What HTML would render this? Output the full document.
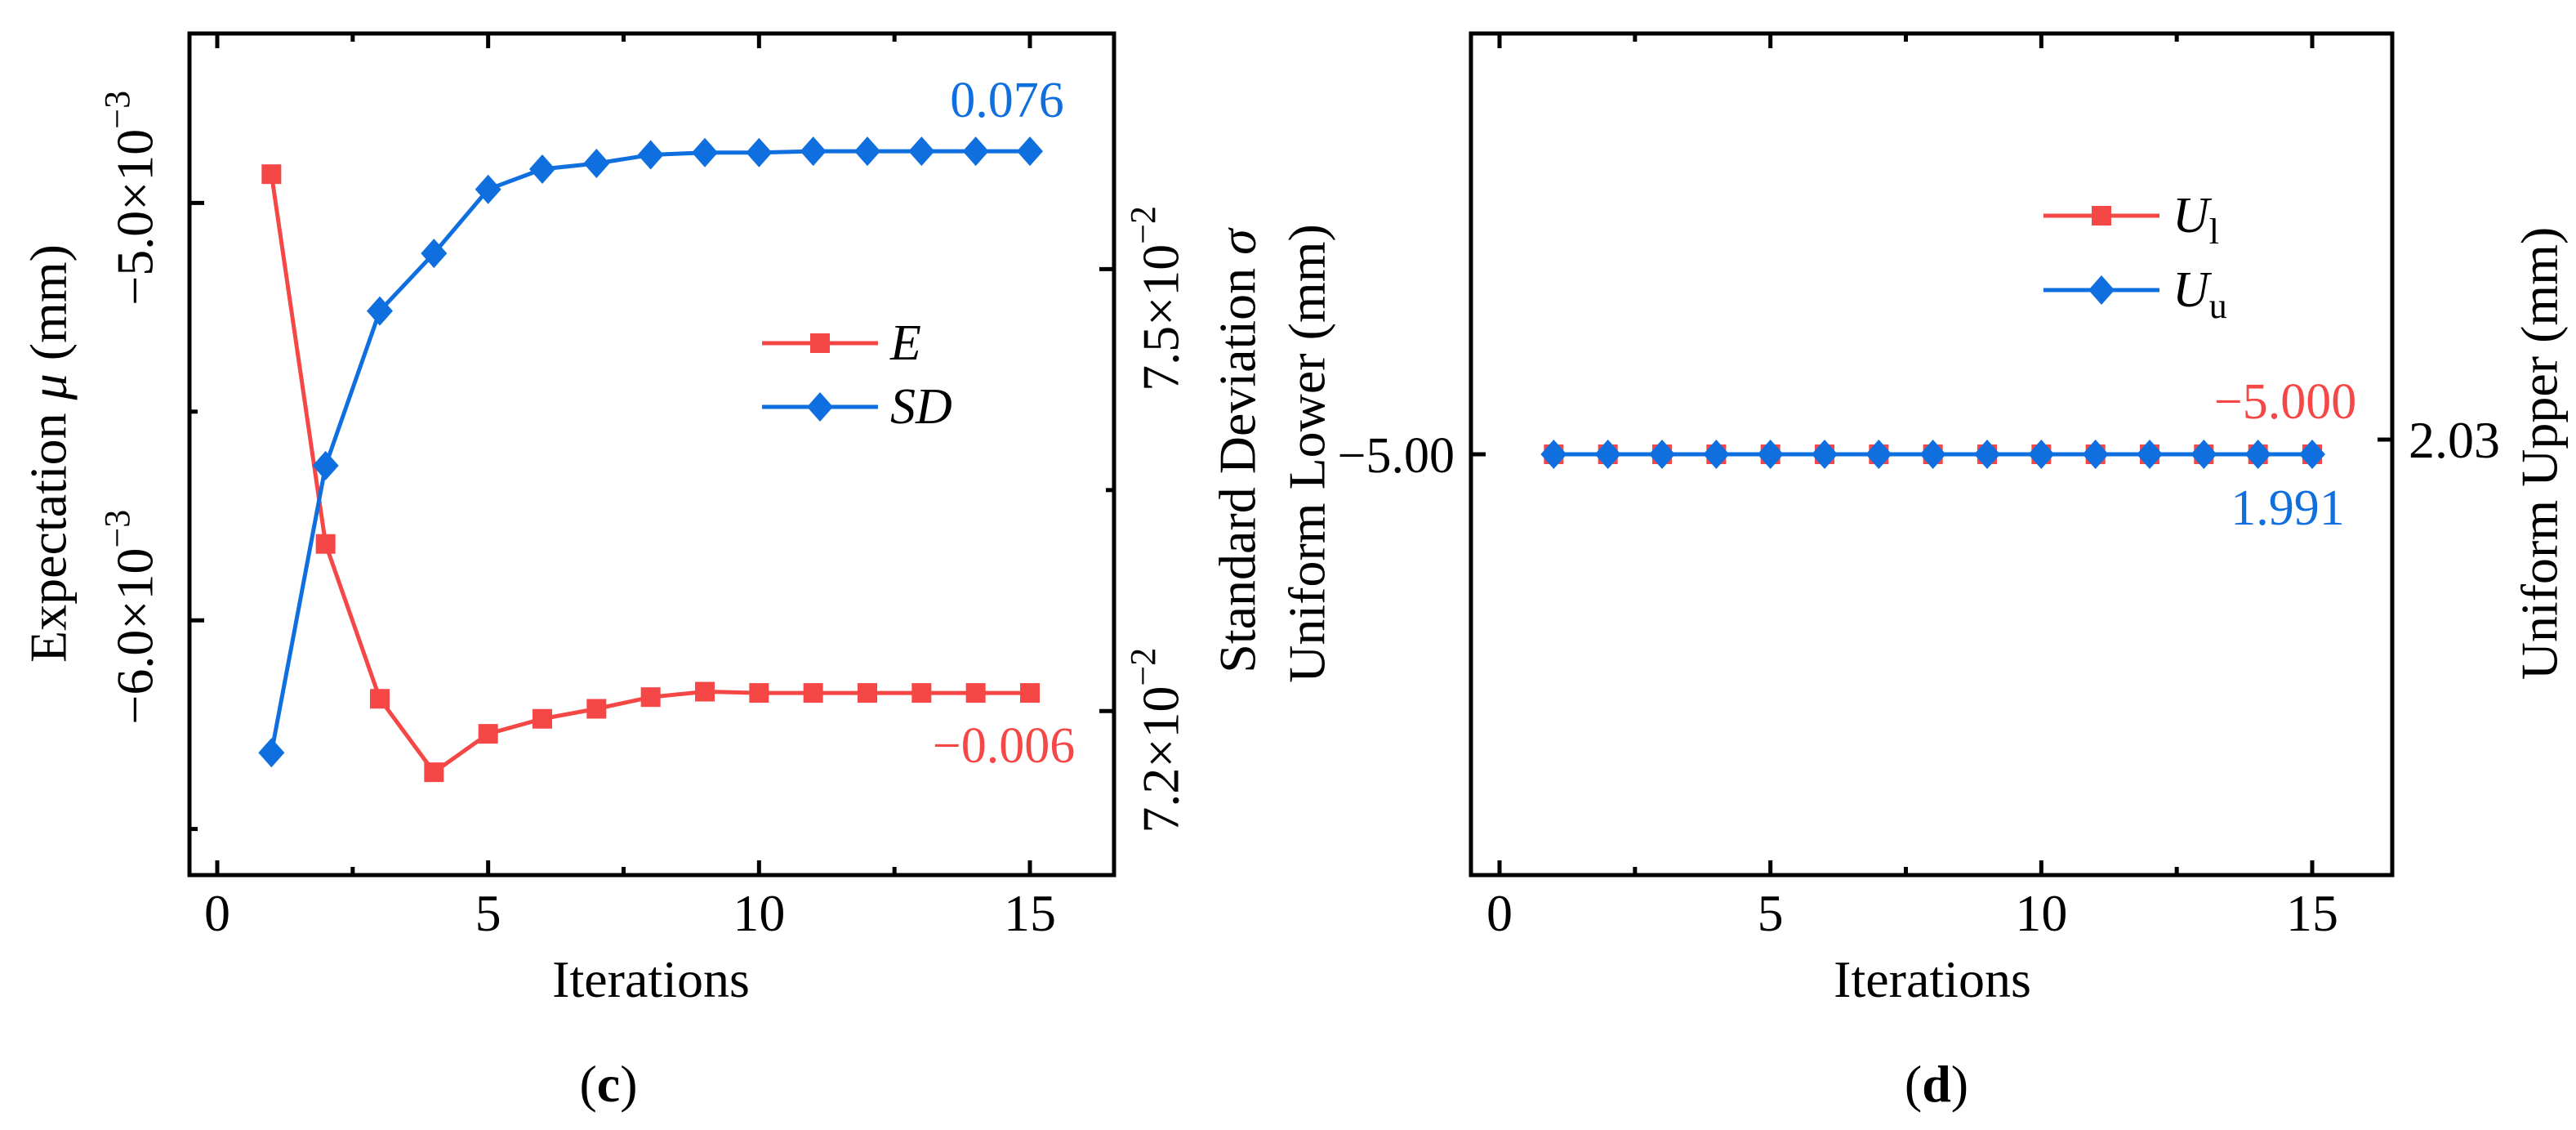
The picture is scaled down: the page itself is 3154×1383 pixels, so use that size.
<!DOCTYPE html>
<html><head><meta charset="utf-8"><style>
html,body{margin:0;padding:0;background:#fff;}
svg{display:block;font-family:"Liberation Serif",serif;}
</style></head><body>
<svg id="fig" width="3154" height="1383" viewBox="0 0 3154 1383" xmlns="http://www.w3.org/2000/svg"></svg>
<script>
const iterations = [1,2,3,4,5,6,7,8,9,10,11,12,13,14,15];
const expectation = [-4.931e-3,-5.817e-3,-6.188e-3,-6.364e-3,-6.272e-3,-6.236e-3,-6.212e-3,-6.184e-3,-6.171e-3,-6.174e-3,-6.174e-3,-6.174e-3,-6.174e-3,-6.174e-3,-6.174e-3];
const stdDev = [7.1717e-2,7.3666e-2,7.4716e-2,7.5107e-2,7.5542e-2,7.5679e-2,7.5718e-2,7.5776e-2,7.5791e-2,7.5791e-2,7.5800e-2,7.5800e-2,7.5800e-2,7.5800e-2,7.5800e-2];
const uniformLower = [-5,-5,-5,-5,-5,-5,-5,-5,-5,-5,-5,-5,-5,-5,-5];
const uniformUpper = [1.991,1.991,1.991,1.991,1.991,1.991,1.991,1.991,1.991,1.991,1.991,1.991,1.991,1.991,1.991];
const xTicks = [0,5,10,15];
const xMinor = [2.5,7.5,12.5];

const NS="http://www.w3.org/2000/svg";
const svg=document.getElementById('fig');
const RED="#f64747", BLUE="#0f6fdf";
function el(tag,attrs,parent){const e=document.createElementNS(NS,tag);for(const k in attrs)e.setAttribute(k,attrs[k]);(parent||svg).appendChild(e);return e;}
function lin(d0,d1,r0,r1){return v=>r0+(v-d0)*(r1-r0)/(d1-d0);}

function panel(p){
  const g=el('g',{});
  
  
  const X=lin(0,15,p.x0,p.x15);
  const fr=el('rect',{x:p.L,y:p.T,width:p.R-p.L,height:p.B-p.T,fill:'none',stroke:'#000','stroke-width':5},g);
  
  
  xTicks.forEach(t=>{
    const x=X(t);
    const a=el('line',{x1:x,x2:x,y1:p.B,y2:p.B-18,stroke:'#000','stroke-width':5},g);
    
    
    el('line',{x1:x,x2:x,y1:p.T,y2:p.T+18,stroke:'#000','stroke-width':5},g);
    const tx=el('text',{x:x,y:p.B+68,'font-size':64,'text-anchor':'middle'},g);
    tx.textContent=t;
    
    
  });
  xMinor.forEach(t=>{
    const x=X(t);
    el('line',{x1:x,x2:x,y1:p.B,y2:p.B-10,stroke:'#000','stroke-width':5},g);
    el('line',{x1:x,x2:x,y1:p.T,y2:p.T+10,stroke:'#000','stroke-width':5},g);
  });
  const xt=el('text',{x:p.xtitle,y:1220,'font-size':64,'text-anchor':'middle'},g);
  xt.textContent='Iterations';
  
  
  return {g,X};
}
function ytick(g,x,y,len,dir,w){const l=el('line',{x1:x,x2:x+dir*len,y1:y,y2:y,stroke:'#000','stroke-width':w||5},g);}
function rotText(g,x,y,html,size,fill,name){
  const t=el('text',{x:0,y:0,'font-size':size,'text-anchor':'middle','dominant-baseline':'middle',transform:`translate(${x},${y}) rotate(-90)`,fill:fill||'#000'},g);
  t.innerHTML=html;return t;
}
function series(g,X,Y,vals,color,marker,name){
  const pts=iterations.map((it,i)=>[X(it),Y(vals[i])]);
  const pl=el('polyline',{points:pts.map(p=>p.join(',')).join(' '),fill:'none',stroke:color,'stroke-width':5},g);
  
  
  pts.forEach(([x,y])=>{
    let m;
    if(marker==='sq') m=el('rect',{x:x-12,y:y-12,width:24,height:24,fill:color},g);
    else m=el('polygon',{points:`${x},${y-18} ${x+16},${y} ${x},${y+18} ${x-16},${y}`,fill:color},g);
    
    
  });
}
function legend(g,x1,x2,y,color,marker,label,tx,name){
  const lg=el('g',{},g);
  
  
  el('line',{x1:x1,x2:x2,y1:y,y2:y,stroke:color,'stroke-width':5},lg);
  const c=(x1+x2)/2;
  if(marker==='sq') el('rect',{x:c-12,y:y-12,width:24,height:24,fill:color},lg);
  else el('polygon',{points:`${c},${y-18} ${c+16},${y} ${c},${y+18} ${c-16},${y}`,fill:color},lg);
  const t=el('text',{x:tx,y:y+20,'font-size':62},lg);t.innerHTML=label;
}
function label(g,x,y,txt,color,name,anchor){const t=el('text',{x:x,y:y,'font-size':62,'text-anchor':anchor||'middle',fill:color},g);t.textContent=txt;}

{
  const p={name:'panel-c',L:232,R:1364,T:41,B:1071,x0:266,x15:1261,xtitle:797};
  const {g,X}=panel(p);
  const YE=lin(-5.0e-3,-6.0e-3,248.4,759.2);
  const YS=lin(7.5e-2,7.2e-2,329.4,870.2);
  [-5.0e-3,-6.0e-3].forEach(v=>ytick(g,p.L,YE(v),18,1));
  [-5.5e-3,-6.5e-3].forEach(v=>ytick(g,p.L,YE(v),10,1));
  [7.5e-2,7.2e-2].forEach(v=>ytick(g,p.R,YS(v),18,-1));
  [7.35e-2].forEach(v=>ytick(g,p.R,YS(v),10,-1));
  rotText(g,172,YE(-5.0e-3)-6,'−5.0×10<tspan dy="-24" font-size="44">−3</tspan>',64,'#000','y-left-tick-label');
  rotText(g,172,YE(-6.0e-3)-4,'−6.0×10<tspan dy="-24" font-size="44">−3</tspan>',64,'#000','y-left-tick-label');
  rotText(g,1428,YS(7.5e-2)+36,'7.5×10<tspan dy="-24" font-size="44">−2</tspan>',64,'#000','y-right-tick-label');
  rotText(g,1428,YS(7.2e-2)+36,'7.2×10<tspan dy="-24" font-size="44">−2</tspan>',64,'#000','y-right-tick-label');
  rotText(g,66,555,'Expectation <tspan font-style="italic">μ</tspan> (mm)',64,'#000','y-left-axis-title');
  rotText(g,1522,552,'Standard Deviation <tspan font-style="italic">σ</tspan>',64,'#000','y-right-axis-title');
  series(g,X,YE,expectation,RED,'sq','expectation');
  series(g,X,YS,stdDev,BLUE,'dia','std-dev');
  legend(g,933,1075,420,RED,'sq','<tspan font-style="italic">E</tspan>',1090,'legend-entry-e');
  legend(g,933,1075,498,BLUE,'dia','<tspan font-style="italic">SD</tspan>',1090,'legend-entry-sd');
  label(g,1233,143,'0.076',BLUE,'sd-final-value');
  label(g,1229,933,'−0.006',RED,'e-final-value');
  const pc=el('text',{x:745,y:1348,'font-size':64,'text-anchor':'middle'},g);
  pc.innerHTML='(<tspan font-weight="bold">c</tspan>)';
  
  
}
{
  const p={name:'panel-d',L:1801,R:2929,T:41,B:1071,x0:1836,x15:2831,xtitle:2366};
  const {g,X}=panel(p);
  const YL=lin(-5.0,-5.1,556,756);
  const YU=lin(2.03,1.991,538,556);
  ytick(g,p.L,YL(-5.0),18,1);
  ytick(g,p.R,YU(2.03),18,-1);
  label(g,1781,578,'−5.00','#000','y-left-tick-label','end');
  const t2=el('text',{x:2949,y:560,'font-size':64},g);t2.textContent='2.03';
  
  
  rotText(g,1607,555,'Uniform Lower (mm)',64,'#000','y-left-axis-title');
  rotText(g,3116,555,'Uniform Upper (mm)',64,'#000','y-right-axis-title');
  series(g,X,YL,uniformLower,RED,'sq','uniform-lower');
  series(g,X,YU,uniformUpper,BLUE,'dia','uniform-upper');
  legend(g,2502,2644,264,RED,'sq','<tspan font-style="italic">U</tspan><tspan font-size="44" dy="14">l</tspan>',2660,'legend-entry-ul');
  legend(g,2502,2644,355,BLUE,'dia','<tspan font-style="italic">U</tspan><tspan font-size="44" dy="14">u</tspan>',2660,'legend-entry-uu');
  label(g,2798,512,'−5.000',RED,'ul-final-value');
  label(g,2801,642,'1.991',BLUE,'uu-final-value');
  const pd=el('text',{x:2371,y:1348,'font-size':64,'text-anchor':'middle'},g);
  pd.innerHTML='(<tspan font-weight="bold">d</tspan>)';
  
  
}
</script>
</body></html>
